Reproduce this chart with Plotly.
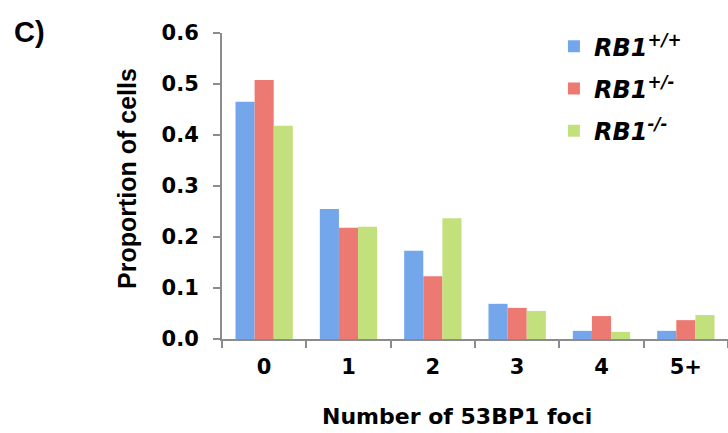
import plotly.graph_objects as go

categories = ["0", "1", "2", "3", "4", "5+"]
rb_wt = [0.465, 0.255, 0.173, 0.069, 0.016, 0.016]
rb_het = [0.508, 0.218, 0.123, 0.061, 0.045, 0.037]
rb_ko = [0.418, 0.220, 0.237, 0.055, 0.014, 0.047]
series_names = ["<i>RB1</i><sup><i>+/+</i></sup>", "<i>RB1</i><sup><i>+/-</i></sup>", "<i>RB1</i><sup><i>-/-</i></sup>"]
colors = ["#74a6ec", "#ec7a72", "#c2e07c"]
y_ticks = [0.0, 0.1, 0.2, 0.3, 0.4, 0.5, 0.6]

fig = go.Figure()
for i, (name, vals) in enumerate(zip(series_names, [rb_wt, rb_het, rb_ko])):
    fig.add_trace(go.Bar(
        x=categories, y=vals, name=name,
        marker=dict(color=colors[i], line=dict(width=0)),
        legendgroup=str(i),
    ))

wide = "DejaVu Sans, sans-serif"
arial = "Liberation Sans, Arial, sans-serif"
fig.update_layout(
    width=728, height=433,
    margin=dict(l=222, r=0, t=33, b=94),
    paper_bgcolor="white", plot_bgcolor="white",
    barmode="group", bargap=0.32, bargroupgap=0,
    font=dict(family=wide, color="black", size=20),
    showlegend=True,
    legend=dict(x=0.656, y=1.029, xanchor="left", yanchor="top",
                font=dict(size=24, family=wide, weight="bold"),
                bgcolor="rgba(0,0,0,0)", tracegroupgap=8, itemwidth=30),
    xaxis=dict(
        type="category", showline=True, linecolor="#8c8c8c", linewidth=2,
        ticks="outside", tickson="boundaries", ticklen=7, tickcolor="#8c8c8c", tickwidth=2,
        tickfont=dict(size=21, family=wide, weight="bold"),
        ticklabelstandoff=8,
        showgrid=False, zeroline=False,
    ),
    yaxis=dict(
        range=[0, 0.6], tickvals=y_ticks, ticktext=[f"{v:.1f}" for v in y_ticks],
        showline=True, linecolor="#8c8c8c", linewidth=2,
        ticks="outside", ticklen=7, tickcolor="#8c8c8c", tickwidth=2,
        tickfont=dict(size=21, family=wide, weight="bold"),
        ticklabelstandoff=10,
        showgrid=False, zeroline=False,
    ),
    annotations=[
        dict(text="<b>C)</b>", xref="paper", yref="paper", x=(29 - 222) / 506, y=(433 - 94 - 32) / 306,
             xanchor="center", yanchor="middle", showarrow=False,
             font=dict(size=29, family=arial)),
        dict(text="<b>Number of 53BP1 foci</b>", xref="paper", yref="paper", x=(457 - 222) / 506,
             y=(339 - 416) / 306, xanchor="center", yanchor="middle", showarrow=False,
             font=dict(size=22, family=wide)),
        dict(text="<b>Proportion of cells</b>", xref="paper", yref="paper", x=(127 - 222) / 506,
             y=(339 - 179) / 306, xanchor="center", yanchor="middle", showarrow=False, textangle=-90,
             font=dict(size=25, family=arial)),
    ],
)

fig.write_html("out.html")
